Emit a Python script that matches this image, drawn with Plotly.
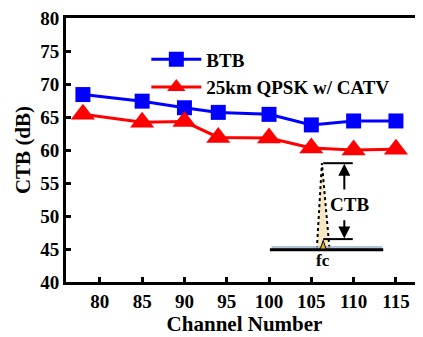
import plotly.graph_objects as go

channels = [78, 85, 90, 94, 100, 105, 110, 115]
btb = [68.4, 67.4, 66.4, 65.7, 65.4, 63.8, 64.4, 64.4]
qpsk = [65.4, 64.2, 64.3, 61.9, 61.8, 60.3, 60.0, 60.1]
x_ticks = [80, 85, 90, 95, 100, 105, 110, 115]
y_ticks = [40, 45, 50, 55, 60, 65, 70, 75, 80]

FONT = "Liberation Serif"

fig = go.Figure()
fig.add_trace(go.Scatter(x=channels, y=btb, mode="lines+markers", name="<b>BTB</b>",
                         line=dict(color="#0000ff", width=3),
                         marker=dict(symbol="square", size=15, color="#0000ff")))
fig.add_trace(go.Scatter(x=channels, y=qpsk, mode="lines+markers", name="<b>25km QPSK w/ CATV</b>",
                         line=dict(color="#ff0000", width=3),
                         marker=dict(symbol="triangle-up", size=21, color="#ff0000")))

# inset schematic (CTB definition)
fig.add_shape(type="path", path="M 105.65,45 L 106.25,58 L 107.15,45 Z",
              fillcolor="#f7e8c4", line=dict(color="black", width=2, dash="dot"))
fig.add_shape(type="rect", x0=100.3, x1=113.4, y0=44.95, y1=45.45,
              fillcolor="#9fb3cf", line=dict(width=0), opacity=0.8)
fig.add_shape(type="line", x0=100.1, x1=113.5, y0=44.9, y1=44.9, line=dict(color="black", width=3))
fig.add_shape(type="line", x0=106.4, x1=109.9, y0=58.0, y1=58.0, line=dict(color="black", width=2))
fig.add_shape(type="line", x0=106.4, x1=109.9, y0=46.5, y1=46.5, line=dict(color="black", width=2))
fig.add_shape(type="path", path="M 106.05,45 L 106.4,46.3 L 106.75,45 Z",
              fillcolor="#e0b020", line=dict(color="black", width=1))
fig.add_annotation(x=108.9, y=46.6, ax=108.9, ay=49.6, xref="x", yref="y", axref="x", ayref="y",
                   showarrow=True, arrowhead=2, arrowsize=1.2, arrowwidth=2, arrowcolor="black", text="")
fig.add_annotation(x=108.9, y=57.9, ax=108.9, ay=53.8, xref="x", yref="y", axref="x", ayref="y",
                   showarrow=True, arrowhead=2, arrowsize=1.2, arrowwidth=2, arrowcolor="black", text="")
fig.add_annotation(x=109.5, y=51.8, text="<b>CTB</b>", showarrow=False,
                   font=dict(family=FONT, size=19, color="black"), bgcolor="rgba(0,0,0,0)")
fig.add_annotation(x=106.4, y=43.2, text="<b>fc</b>", showarrow=False,
                   font=dict(family=FONT, size=17, color="black"))

fig.update_layout(
    width=415, height=329,
    margin=dict(l=58, r=0, t=8, b=55),
    plot_bgcolor="white", paper_bgcolor="white",
    font=dict(family=FONT, size=18, color="black"),
    showlegend=True,
    legend=dict(x=0.225, y=0.915, xanchor="left", yanchor="top",
                bgcolor="rgba(0,0,0,0)", font=dict(family=FONT, size=19, color="black"),
                itemwidth=50, tracegroupgap=0, itemsizing="trace"),
    xaxis=dict(range=[76, 118.2], tickvals=x_ticks, ticktext=[f"<b>{v}</b>" for v in x_ticks],
               ticks="inside", ticklen=5, tickwidth=3, ticklabeloverflow="allow",
               tickcolor="black", showline=True, linewidth=3, linecolor="black", mirror=True,
               showgrid=False, zeroline=False,
               tickfont=dict(family=FONT, size=19, color="black"),
               title=dict(text="<b>Channel Number</b>", font=dict(family=FONT, size=21), standoff=3)),
    yaxis=dict(range=[40, 80], tickvals=y_ticks, ticktext=[f"<b>{v}</b>" for v in y_ticks],
               ticks="inside", ticklen=5, tickwidth=3, ticklabeloverflow="allow",
               tickcolor="black", showline=True, linewidth=3, linecolor="black",
               showgrid=False, zeroline=False,
               tickfont=dict(family=FONT, size=19, color="black"),
               title=dict(text="<b>CTB (dB)</b>", font=dict(family=FONT, size=21), standoff=4)),
)

fig.write_html("out.html")
